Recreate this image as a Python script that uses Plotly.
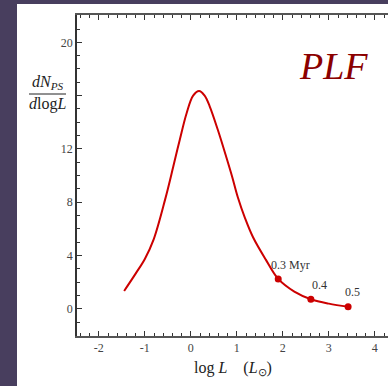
import plotly.graph_objects as go

# Curve samples (log L, dN/dlogL)
curve_x = [-1.45, -1.2, -1.0, -0.81, -0.56, -0.38, -0.24, -0.09, 0.05, 0.18, 0.3, 0.41, 0.59, 0.77, 0.9, 1.02, 1.18, 1.35, 1.63, 1.90, 2.25, 2.61, 3.0, 3.42]
curve_y = [1.35, 2.65, 3.75, 5.2, 8.2, 10.7, 12.7, 14.7, 16.0, 16.35, 16.0, 15.2, 13.4, 11.4, 9.9, 8.4, 6.8, 5.4, 3.7, 2.25, 1.3, 0.73, 0.4, 0.17]

# Marked ages
age_x = [1.90, 2.61, 3.42]
age_y = [2.25, 0.73, 0.17]
age_labels = ["0.3 Myr", "0.4", "0.5"]
age_label_x = [2.17, 2.79, 3.52]
age_label_y = [3.3, 1.8, 1.25]

x_ticks = [-2, -1, 0, 1, 2, 3, 4]
x_tick_text = ["-2", "-1", "0", "1", "2", "3", "4"]
y_ticks = [0, 4, 8, 12, 16, 20]
y_tick_text = ["0", "4", "8", "12", "", "20"]

FONT = "Liberation Serif"
L, R, T, B = 77, 0, 15, 50
W, H = 388, 386
PW, PH = W - L - R, H - T - B


def px(x):
    return (x - L) / PW


def py(y):
    return (H - B - y) / PH


fig = go.Figure()
fig.add_trace(go.Scatter(x=curve_x, y=curve_y, mode="lines",
                         line=dict(color="#cc0000", width=2, shape="spline", smoothing=1.0),
                         hoverinfo="skip"))
fig.add_trace(go.Scatter(x=age_x, y=age_y, mode="markers",
                         marker=dict(color="#cc0000", size=7), hoverinfo="skip"))

annotations = []
for tx, ty, t in zip(age_label_x, age_label_y, age_labels):
    annotations.append(dict(x=tx, y=ty, text=t, showarrow=False,
                            xanchor="center", yanchor="middle",
                            font=dict(family=FONT, size=12, color="#333")))


def paper_text(x, y, text, size, color="#222"):
    annotations.append(dict(x=px(x), y=py(y), xref="paper", yref="paper", text=text,
                            showarrow=False, xanchor="center", yanchor="middle",
                            font=dict(family=FONT, size=size, color=color)))


paper_text(333, 66, "<i>PLF</i>", 38, "#8b0000")
paper_text(48, 82, "<i>dN</i><sub><i>PS</i></sub>", 16)
paper_text(47.5, 104, "<i>d</i>log<i>L</i>", 16)
paper_text(233, 368, "log <i>L</i>    (<i>L</i><sub>⊙</sub>)", 16)

shapes = [
    dict(type="rect", xref="paper", yref="paper", x0=px(17), x1=px(W + 5), y0=py(H + 5), y1=py(4),
         fillcolor="white", line=dict(width=0), layer="below"),
    dict(type="line", xref="paper", yref="paper", x0=px(29), x1=px(66), y0=py(94), y1=py(94),
         line=dict(color="#222", width=1)),
]

fig.update_layout(
    width=W, height=H,
    margin=dict(l=L, r=R, t=T, b=B, pad=0),
    paper_bgcolor="#483e5e",
    plot_bgcolor="white",
    showlegend=False,
    annotations=annotations,
    shapes=shapes,
    font=dict(family=FONT, size=12, color="#444"),
)
fig.update_xaxes(range=[-2.475, 4.287], showgrid=False, zeroline=False,
                 showline=True, linecolor="#555", linewidth=1.5, mirror="ticks",
                 ticks="inside", ticklen=5, tickwidth=1, tickcolor="#333",
                 tickvals=x_ticks, ticktext=x_tick_text,
                 tickfont=dict(family=FONT, size=12, color="#444"),
                 minor=dict(dtick=0.2, tick0=0, ticks="inside", ticklen=3, tickcolor="#333"))
fig.update_yaxes(range=[-2.03, 22.05], showgrid=False, zeroline=False,
                 showline=True, linecolor="#333", linewidth=1.5,
                 ticks="inside", ticklen=5, tickwidth=1, tickcolor="#333",
                 tickvals=y_ticks, ticktext=y_tick_text,
                 tickfont=dict(family=FONT, size=12, color="#444"),
                 minor=dict(dtick=1, tick0=0, ticks="inside", ticklen=3, tickcolor="#333"))

fig.write_html("out.html")
